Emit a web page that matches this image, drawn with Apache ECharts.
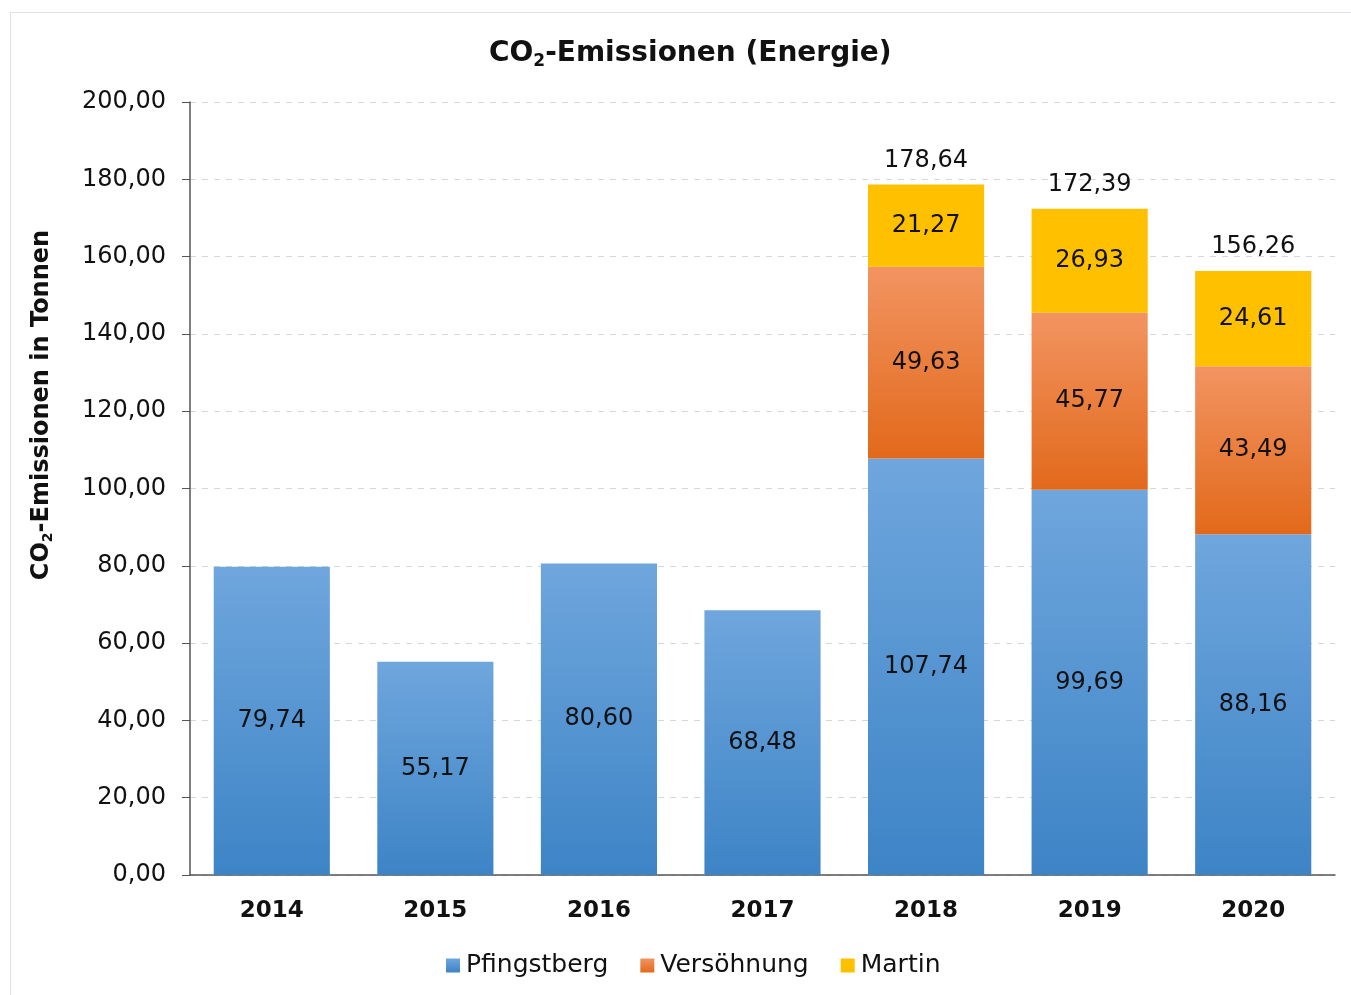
<!DOCTYPE html>
<html>
<head>
<meta charset="utf-8">
<script src="https://cdn.jsdelivr.net/npm/echarts@6/dist/echarts.min.js"></script>
<style>
html,body{margin:0;padding:0;width:1351px;height:995px;overflow:hidden;background:#fff;}
#frame{position:absolute;left:10px;top:12px;width:1400px;height:1000px;border:1px solid #dde1ec;box-sizing:border-box;}
#chart{position:absolute;left:0;top:0;width:1351px;height:995px;}
</style>
</head>
<body>
<div id="frame"></div>
<div id="chart"></div>
<script>
const categories = ['2014', '2015', '2016', '2017', '2018', '2019', '2020'];
const pfingstberg = [79.74, 55.17, 80.60, 68.48, 107.74, 99.69, 88.16];
const versoehnung = [null, null, null, null, 49.63, 45.77, 43.49];
const martin = [null, null, null, null, 21.27, 26.93, 24.61];
const totals = [null, null, null, null, 178.64, 172.39, 156.26];
const yTicks = { min: 0, max: 200, interval: 20 };

const fmt = v => v == null ? '' : v.toFixed(2).replace('.', ',');
const FONT = 'DejaVu Sans';

const chart = echarts.init(document.getElementById('chart'), null, { renderer: 'canvas' });

function grad(top, bottom) {
  return new echarts.graphic.LinearGradient(0, 0, 0, 1, [
    { offset: 0, color: top }, { offset: 1, color: bottom }
  ]);
}

const labelStyle = {
  show: true, position: 'inside', color: '#111', fontFamily: FONT, fontSize: 24,
  formatter: p => fmt(p.value)
};

chart.setOption({
  animation: false,
  backgroundColor: 'transparent',
  title: {
    text: '{a|CO}{s|2}{a|-Emissionen (Energie)}',
    left: 484, top: 31,
    textStyle: {
      rich: {
        a: { fontFamily: FONT, fontWeight: 'bold', fontSize: 28, color: '#111', lineHeight: 36 },
        s: { fontFamily: FONT, fontWeight: 'bold', fontSize: 17, color: '#111', lineHeight: 36, padding: [15, 0, 0, 0] }
      }
    }
  },
  grid: { left: 190, right: 16, top: 102, bottom: 120, containLabel: false },
  legend: {
    bottom: 12, left: 441,
    data: ['Pfingstberg', 'Versöhnung', 'Martin'],
    icon: 'rect', itemWidth: 14, itemHeight: 14, itemGap: 32,
    textStyle: { fontFamily: FONT, fontSize: 25, color: '#111', padding: [0, 0, 0, 1] }
  },
  xAxis: {
    type: 'category', data: categories,
    axisLine: { lineStyle: { color: '#555', width: 1.5 } },
    axisTick: { show: false },
    axisLabel: { fontFamily: FONT, fontWeight: 'bold', fontSize: 23, color: '#111', margin: 25 }
  },
  yAxis: {
    type: 'value', min: yTicks.min, max: yTicks.max, interval: yTicks.interval,
    axisLine: { show: true, lineStyle: { color: '#555', width: 1.5 } },
    axisTick: { show: true, length: 8, lineStyle: { color: '#555' } },
    axisLabel: { fontFamily: FONT, fontSize: 24, color: '#111', margin: 24, formatter: v => fmt(v) },
    splitLine: { show: true, lineStyle: { color: '#d6d6d6', type: [6, 6], width: 1 } }
  },
  graphic: [{
    type: 'text', x: 42, y: 405, rotation: Math.PI / 2,
    style: {
      text: '{a|CO}{s|2}{a|-Emissionen in Tonnen}',
      align: 'center', verticalAlign: 'middle',
      rich: {
        a: { fontFamily: FONT, fontWeight: 'bold', fontSize: 24, fill: '#111', lineHeight: 32 },
        s: { fontFamily: FONT, fontWeight: 'bold', fontSize: 14, fill: '#111', lineHeight: 32, padding: [13, 0, 0, 0] }
      }
    }
  }],
  series: [
    {
      name: 'Pfingstberg', type: 'bar', stack: 's', barWidth: '71%', data: pfingstberg,
      itemStyle: { color: grad('#6fa6dd', '#3d84c6') }, label: labelStyle
    },
    {
      name: 'Versöhnung', type: 'bar', stack: 's', data: versoehnung,
      itemStyle: { color: grad('#f29461', '#e2691b') }, label: labelStyle
    },
    {
      name: 'Martin', type: 'bar', stack: 's', data: martin,
      itemStyle: { color: '#ffc000' }, label: labelStyle
    },
    {
      name: 'Summe', type: 'bar', stack: 's',
      data: totals.map(t => t == null ? null : 0),
      itemStyle: { color: 'transparent' },
      label: {
        show: true, position: 'top', distance: 12, color: '#111', fontFamily: FONT, fontSize: 24,
        formatter: p => fmt(totals[p.dataIndex])
      }
    }
  ]
});
</script>
</body>
</html>
